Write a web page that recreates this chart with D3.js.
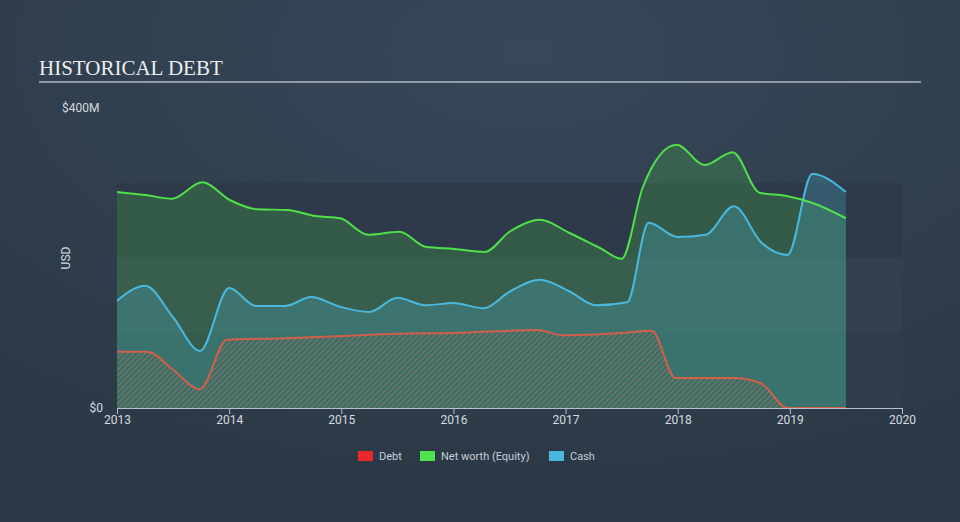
<!DOCTYPE html>
<html><head><meta charset="utf-8">
<script src="https://cdn.jsdelivr.net/npm/d3@7"></script>
<style>
html,body{margin:0;padding:0;background:#303e4d;}
svg{display:block;}
</style></head>
<body>
<svg id="chart" width="960" height="522"></svg>
<script>
// ---- data (USD millions) ----
const equityDates = [2013.0,2013.25,2013.49,2013.76,2014.01,2014.25,2014.52,2014.77,2014.99,2015.24,2015.52,2015.75,2016.01,2016.28,2016.5,2016.77,2017.04,2017.31,2017.5,2017.69,2017.99,2018.24,2018.49,2018.73,2018.96,2019.21,2019.5];
const equityValues = [288,284,279,301,277,265,264,256,253,231,235,215,212,208,235,251,233,213,199,295,351,324,341,287,283,273,253];
const cashDates = [2013.0,2013.25,2013.5,2013.74,2014.0,2014.24,2014.5,2014.73,2014.99,2015.25,2015.5,2015.75,2016.0,2016.27,2016.5,2016.77,2017.04,2017.27,2017.55,2017.74,2018.0,2018.25,2018.5,2018.75,2018.98,2019.2,2019.5];
const cashValues = [143,163,121,76,160,136,136,148,135,128,147,137,140,133,155,171,155,137,141,247,228,231,269,220,204,312,288];
const debtDates = [2013.0,2013.27,2013.5,2013.74,2013.98,2014.5,2015.0,2015.5,2016.0,2016.75,2016.98,2017.5,2017.77,2017.98,2018.5,2018.74,2018.98,2019.5];
const debtValues = [75,75,51,25,91,93,96,99,100,104,97,100,103,40,40,33,0,0];
const xTickYears = [2013,2014,2015,2016,2017,2018,2019,2020];
const yTickLabels = ["$0","$400M"];
const legendNames = ["Debt","Net worth (Equity)","Cash"];
const legendColors = ["#e8282b","#4fe34f","#4ab8dc"];

const svg = d3.select("#chart");
const W = 960, H = 522;
const defs = svg.append("defs");
const bg = defs.append("radialGradient").attr("id","bg").attr("cx","55%").attr("cy","10%").attr("r","90%");
bg.append("stop").attr("offset","0%").attr("stop-color","#374859");
bg.append("stop").attr("offset","100%").attr("stop-color","#2b3744");
svg.append("rect").attr("width",W).attr("height",H).attr("fill","url(#bg)");

const pat = defs.append("pattern").attr("id","hatch").attr("patternUnits","userSpaceOnUse")
  .attr("width",4).attr("height",4).attr("patternTransform","rotate(45)");
pat.append("rect").attr("width",4).attr("height",4).attr("fill","#3b7068");
pat.append("line").attr("x1",0).attr("y1",0).attr("x2",0).attr("y2",4)
  .attr("stroke","#b7715f").attr("stroke-width",1.3);

const x = d3.scaleLinear().domain([2013,2020]).range([117,902]);
const y = d3.scaleLinear().domain([0,400]).range([408,108]);

// bands
const bands = [[0,100,"#2f3c4b"],[100,200,"#333f4f"],[200,300,"#2e3a49"]];
svg.selectAll("rect.band").data(bands).enter().append("rect")
  .attr("x",x(2013)).attr("width",x(2020)-x(2013))
  .attr("y",d=>y(d[1])).attr("height",d=>y(d[0])-y(d[1]))
  .attr("fill",d=>d[2]);

// title
svg.append("text").attr("x",39).attr("y",75).text("HISTORICAL DEBT")
  .attr("font-family","Liberation Serif, Times New Roman, serif").attr("font-size",21).attr("fill","#eceef0");
svg.append("line").attr("x1",39).attr("x2",921).attr("y1",82).attr("y2",82)
  .attr("stroke","#b0b8c1").attr("stroke-width",1.5);

const eq = equityDates.map((d,i)=>[d,equityValues[i]]);
const cs = cashDates.map((d,i)=>[d,cashValues[i]]);
const db = debtDates.map((d,i)=>[d,debtValues[i]]);
const curve = d3.curveMonotoneX;
const area = d3.area().x(d=>x(d[0])).y0(y(0)).y1(d=>y(d[1])).curve(curve);
const line = d3.line().x(d=>x(d[0])).y(d=>y(d[1])).curve(curve);

svg.append("path").attr("d",area(eq)).attr("fill","rgba(78,222,72,0.2)");
svg.append("path").attr("d",area(cs)).attr("fill","rgba(74,184,220,0.25)");
svg.append("path").attr("d",area(db)).attr("fill","url(#hatch)");
svg.append("path").attr("d",line(db)).attr("fill","none").attr("stroke","#d0604a").attr("stroke-width",2);
svg.append("path").attr("d",line(cs)).attr("fill","none").attr("stroke","#4ab8dc").attr("stroke-width",2);
svg.append("path").attr("d",line(eq)).attr("fill","none").attr("stroke","#4fe04a").attr("stroke-width",2);

// axes
const xAxis = d3.axisBottom(x).tickValues(xTickYears).tickFormat(d3.format("d")).tickSize(6);
const gx = svg.append("g").attr("transform",`translate(0,${y(0)})`).call(xAxis);
gx.select(".domain").attr("stroke","#b8c0ca");
gx.selectAll(".tick line").attr("stroke","#b8c0ca");
gx.selectAll("text").attr("fill","#d6dbe0").attr("font-size",12).attr("font-family","Roboto, Arial, sans-serif").attr("dy","0.55em");

svg.append("text").attr("x",103).attr("y",y(0)+4).attr("text-anchor","end").text(yTickLabels[0])
  .attr("font-family","Roboto, Arial, sans-serif").attr("font-size",12).attr("fill","#d6dbe0");
svg.append("text").attr("x",62).attr("y",y(400)+4).text(yTickLabels[1])
  .attr("font-family","Roboto, Arial, sans-serif").attr("font-size",12).attr("fill","#d6dbe0");
svg.append("text").attr("transform","translate(70,258) rotate(-90)").attr("text-anchor","middle").text("USD")
  .attr("font-family","Roboto, Arial, sans-serif").attr("font-size",12).attr("fill","#d6dbe0");

// legend
const lx = [358,420,549];
const lg = svg.selectAll("g.leg").data(legendNames).enter().append("g").attr("transform",(d,i)=>`translate(${lx[i]},451)`);
lg.append("rect").attr("width",15).attr("height",10).attr("fill",(d,i)=>legendColors[i]);
lg.append("text").attr("x",21).attr("y",9).text(d=>d)
  .attr("font-family","Roboto, Arial, sans-serif").attr("font-size",11).attr("fill","#c8ced4");
</script>
</body></html>
